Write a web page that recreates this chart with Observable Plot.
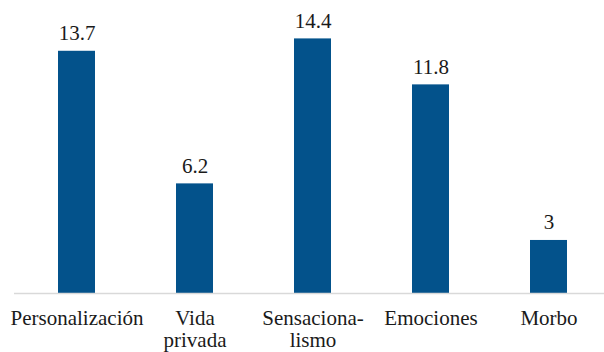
<!DOCTYPE html>
<html>
<head>
<meta charset="utf-8">
<script src="https://cdn.jsdelivr.net/npm/d3@7"></script>
<script src="https://cdn.jsdelivr.net/npm/@observablehq/plot@0.6"></script>
<style>
  html, body { margin: 0; padding: 0; background: #fff; }
</style>
</head>
<body>
<div id="chart"></div>
<script>
const categories = ["Personalización", "Vida\nprivada", "Sensaciona-\nlismo", "Emociones", "Morbo"];
const values = [13.7, 6.2, 14.4, 11.8, 3];
const valueLabels = ["13.7", "6.2", "14.4", "11.8", "3"];

const data = categories.map((c, i) => ({category: c, value: values[i], label: valueLabels[i]}));

const serif = "'Liberation Serif', 'Times New Roman', serif";

const chart = Plot.plot({
  width: 604,
  height: 352,
  marginLeft: 14,
  marginRight: 0,
  marginTop: 0,
  marginBottom: 59,
  style: {fontSize: "21px", fontFamily: serif, color: "#1a1a1a", background: "#fff"},
  x: {domain: categories, range: [16, 609], paddingInner: 0.69, paddingOuter: 0.345, label: null},
  y: {domain: [0, 16], range: [293, 293 - 16 * 17.68], axis: null},
  marks: [
    Plot.barY(data, {x: "category", y: "value", fill: "#03528b"}),
    Plot.ruleY([0], {stroke: "#d9d9d9", strokeWidth: 1.5}),
    Plot.text(data, {x: "category", y: "value", text: "label", dy: -11, lineAnchor: "bottom", fill: "#1a1a1a", fontSize: 21, fontFamily: serif}),
    Plot.axisX({tickSize: 0, tickPadding: 16, fontSize: 21, fontFamily: serif, lineHeight: 1.05, lineAnchor: "top", fill: "#1a1a1a", label: null})
  ]
});
document.getElementById("chart").appendChild(chart);
</script>
</body>
</html>
